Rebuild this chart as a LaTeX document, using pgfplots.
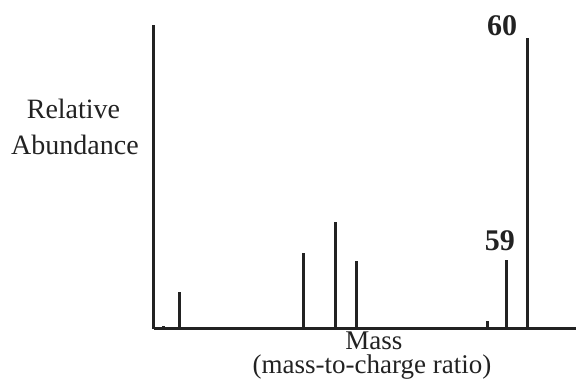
\documentclass[border=0pt]{standalone}
\usepackage{fontspec}
\setmainfont{Liberation Serif}
\usepackage{pgfplots}
\pgfplotsset{compat=1.18}
\definecolor{ink}{HTML}{222222}
\begin{document}
\begin{tikzpicture}
\begin{axis}[
  scale only axis,
  width=211pt, height=152pt,
  xmin=42.238, xmax=62.333,
  ymin=0, ymax=104.47,
  axis x line=bottom, axis y line=left,
  axis line style={-, line width=1.5pt, ink},
  xtick=\empty, ytick=\empty,
  clip=false,
]
\addplot[ycomb, line width=1.5pt, ink, mark=none] coordinates {
  (42.714,1.0) (43.43,12.7) (49.38,26.1) (50.90,36.8) (51.86,23.4)
  (58.10,2.7) (59,23.7) (60,100)
};
\node[anchor=base, inner sep=0pt, font=\fontsize{15}{18}\selectfont\bfseries, ink] at (axis cs:58.81,101.0) {60};
\node[anchor=base, inner sep=0pt, font=\fontsize{15}{18}\selectfont\bfseries, ink] at (axis cs:58.71,27.1) {59};
\node[anchor=base, inner sep=0pt, font=\fontsize{14}{17}\selectfont, ink] at (axis cs:38.405,72.5) {Relative};
\node[anchor=base, inner sep=0pt, font=\fontsize{14}{17}\selectfont, ink] at (axis cs:38.476,60.1) {Abundance};
\node[anchor=base, inner sep=0pt, font=\fontsize{13.5}{16}\selectfont, ink] at (axis cs:52.71,-7.2) {Mass};
\node[anchor=base, inner sep=0pt, font=\fontsize{13.5}{16}\selectfont, ink] at (axis cs:52.62,-15.46) {(mass-to-charge ratio)};
\coordinate (bl) at (axis cs:34.905,-17.53);
\coordinate (tr) at (axis cs:62.333,113.06);
\end{axis}
\pgfresetboundingbox
\path[use as bounding box] (bl) rectangle (tr);
\end{tikzpicture}
\end{document}
